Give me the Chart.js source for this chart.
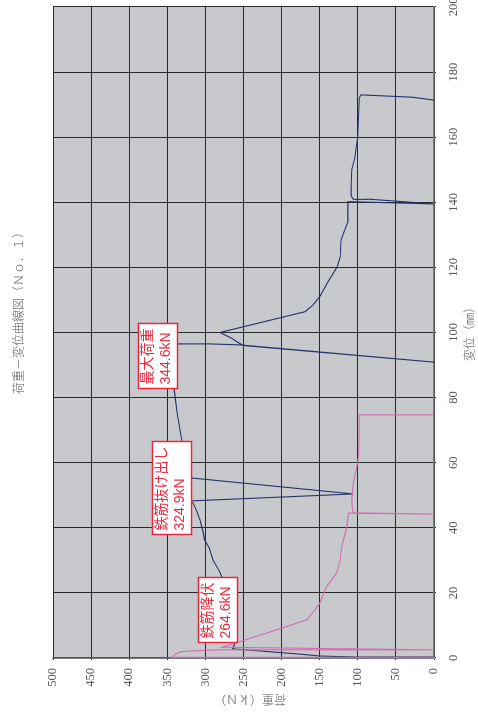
<!DOCTYPE html>
<html>
<head>
<meta charset="utf-8">
<script src="https://cdn.jsdelivr.net/npm/chart.js@4"></script>
<style>
  html, body { margin: 0; padding: 0; background: #fff; overflow: hidden; }
  #page { position: relative; width: 478px; height: 720px; overflow: hidden; background: #fff; }
  /* the chart is laid out landscape and turned a quarter turn counter-clockwise */
  #turn { position: absolute; left: 0; top: 0; width: 720px; height: 478px;
          transform-origin: 0 0; transform: translateY(720px) rotate(-90deg); }
</style>
</head>
<body>
<div id="page"><div id="turn"><canvas id="c" width="720" height="478"></canvas></div></div>
<script>
// Tick values
const dispTicks = [0, 20, 40, 60, 80, 100, 120, 140, 160, 180, 200];
const loadTicks = [0, 50, 100, 150, 200, 250, 300, 350, 400, 450, 500];

// Main curve: displacement (mm) / load (kN)
const mainDisp = [0, 0.3, 0.3, 0.6, 1.2, 1.9, 2.5, 2.8, 4, 8, 12, 15, 18, 22, 26.4, 30.1, 33.8, 36.3, 38.7, 42.4, 44.9, 47.6, 48.2,
                  50.4, 55.3, 61, 67, 75, 82.6, 88, 92, 96.5, 96.5, 96.2, 90.9,
                  96.0, 97.2, 98.3, 99.2, 100, 106.4, 108.4, 111, 115.6, 120.2, 123.3, 128.4, 131.5, 134, 140.2, 139.5,
                  141, 140.9, 141.7, 142.2, 146, 150, 153.6, 160, 166, 172, 173, 172.3, 171.4];
const mainLoad = [0, 9, 101, 150, 176, 215, 245, 264.6, 262, 259, 258, 259, 265, 273, 281, 290, 295, 301, 303, 307, 311, 316, 324.9,
                  106, 318, 325, 331, 337, 341, 343.5, 344.6, 336, 295, 255, 0,
                  250, 259, 266, 274, 281, 169, 159, 150, 139, 127, 123, 122, 117, 113, 113, 0,
                  88, 106, 108, 109, 108.5, 108, 104, 100, 99, 98, 96, 29, 0];

// Second gauge curve: displacement (mm) / load (kN)
const subDisp = [0, 0.2, 1.1, 1.9, 2.2, 2.5, 2.5, 3.3, 7.5, 11.7, 14, 16.8, 21.9, 26, 30.1, 34.2, 39.8, 44.5, 44.2,
                 44.6, 47.5, 50, 53.7, 57.8, 61.8, 66, 74.7, 74.7];
const subLoad = [0, 344.5, 340, 333, 316, 281, 0, 278, 222, 167, 159, 150, 141, 128, 123, 121, 115, 112, 0,
                 106, 108, 107.5, 106, 102, 99, 98.5, 98, 0];

// Callouts
const noteNames = ['鉄筋降伏', '鉄筋抜け出し', '最大荷重'];
const noteLoads = [264.6, 324.9, 344.6];
const noteDisps = [2.8, 48.2, 92];

const titleText = '荷重－変位曲線図（Ｎｏ．１）';
const dispTitle = '変位（㎜）';
const loadTitle = '荷重（ｋＮ）';

const toPoints = (xs, ys) => xs.map((x, i) => ({ x: x, y: ys[i] }));

// callout box offsets from the marked point, in pixels
const noteOffset = [[6, -34], [-34, -34], [-30, -33]];

const decor = {
  id: 'decor',
  beforeDraw(chart) {
    const { ctx, chartArea: a } = chart;
    ctx.save();
    ctx.fillStyle = '#ffffff';
    ctx.fillRect(0, 0, chart.width, chart.height);
    ctx.fillStyle = '#c8c9cc';
    ctx.fillRect(a.left, a.top, a.right - a.left, a.bottom - a.top);
    ctx.restore();
  },
  afterDatasetsDraw(chart) {
    const { ctx } = chart;
    const sx = chart.scales.x, sy = chart.scales.y;
    ctx.save();
    ctx.font = "14px 'Liberation Sans', 'Noto Sans CJK JP', sans-serif";
    noteNames.forEach((name, i) => {
      const px = sx.getPixelForValue(noteDisps[i]);
      const py = sy.getPixelForValue(noteLoads[i]);
      const line2 = noteLoads[i].toFixed(1) + 'kN';
      const w = Math.max(ctx.measureText(name).width, ctx.measureText(line2).width) + 9;
      const h = 39;
      const left = Math.round(px + noteOffset[i][0]) + 0.5;
      const top = Math.round(py + noteOffset[i][1]) + 0.5;
      ctx.fillStyle = '#ffffff';
      ctx.fillRect(left, top, w, h);
      ctx.strokeStyle = '#e8283c';
      ctx.lineWidth = 1.5;
      ctx.strokeRect(left, top, w, h);
      ctx.fillStyle = '#ec2a3e';
      ctx.textBaseline = 'middle';
      ctx.textAlign = 'left';
      ctx.fillText(name, left + 4, top + 10);
      ctx.fillText(line2, left + 4, top + 28);
    });
    ctx.restore();
  },
  afterDraw(chart) {
    const { ctx } = chart;
    ctx.save();
    ctx.fillStyle = '#5a5a5a';
    ctx.textAlign = 'center';
    ctx.textBaseline = 'middle';
    ctx.font = "300 12px 'Noto Sans CJK JP', sans-serif";
    ctx.fillText(titleText, 410, 18);
    ctx.fillText(dispTitle, 389, 469);
    ctx.translate(20, 250);
    ctx.rotate(-Math.PI / 2);
    ctx.fillText(loadTitle, 0, 0);
    ctx.restore();
  }
};

const tickFont = { family: "'Liberation Serif', serif", size: 12.5 };

new Chart(document.getElementById('c'), {
  type: 'scatter',
  data: {
    datasets: [
      { data: toPoints(subDisp, subLoad), showLine: true, borderColor: '#d46ab4', borderWidth: 1.1,
        pointRadius: 0, tension: 0, clip: 4 },
      { data: toPoints(mainDisp, mainLoad), showLine: true, borderColor: '#28306c', borderWidth: 1.1,
        pointRadius: 0, tension: 0, clip: 4 }
    ]
  },
  options: {
    responsive: false,
    animation: false,
    devicePixelRatio: 1,
    layout: { padding: { left: 0, right: 7, top: 53, bottom: 0 } },
    plugins: { legend: { display: false }, tooltip: { enabled: false }, title: { display: false } },
    scales: {
      x: {
        type: 'linear', min: 0, max: 200,
        afterFit(s) { s.height = 44; s.paddingRight = 0; s.paddingLeft = 0; },
        afterBuildTicks(s) { s.ticks = dispTicks.map(v => ({ value: v })); },
        grid: { color: '#2a2a2a', lineWidth: 1, tickLength: 2, tickColor: '#2a2a2a' },
        border: { color: '#7c7c7c', width: 1.5 },
        ticks: { padding: 10, color: '#555', font: tickFont, maxRotation: 0 }
      },
      y: {
        type: 'linear', min: 0, max: 500,
        afterFit(s) { s.width = 62; s.paddingTop = 0; s.paddingBottom = 0; },
        afterBuildTicks(s) { s.ticks = loadTicks.map(v => ({ value: v })); },
        grid: { color: '#2a2a2a', lineWidth: 1, tickLength: 2, tickColor: '#2a2a2a' },
        border: { color: '#7c7c7c', width: 1.5 },
        ticks: { padding: 8, color: '#555', font: tickFont }
      }
    }
  },
  plugins: [decor]
});
</script>
</body>
</html>
